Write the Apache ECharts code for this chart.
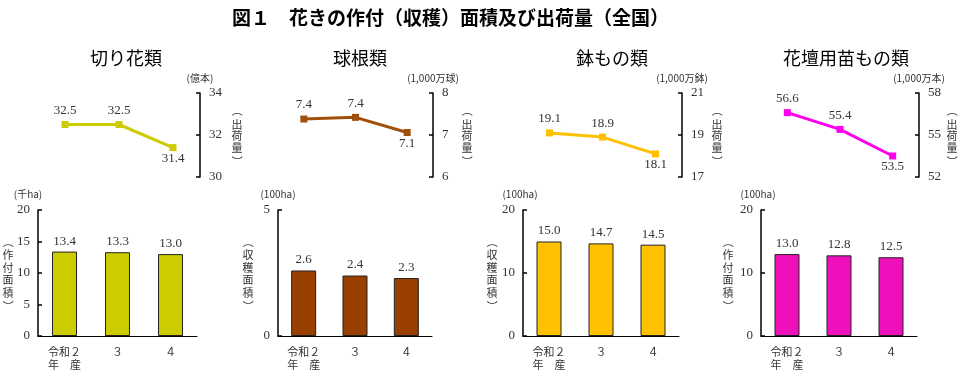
<!DOCTYPE html>
<html>
<head>
<meta charset="utf-8">
<script src="https://cdn.jsdelivr.net/npm/echarts@6/dist/echarts.min.js"></script>
<style>
html,body{margin:0;padding:0;background:#fff;}
#main{width:960px;height:372px;}
</style>
</head>
<body>
<div id="main"></div>
<script>
// ---- data ----
const mainTitle = '図１　花きの作付（収穫）面積及び出荷量（全国）';
const panelTitles = ['切り花類', '球根類', '鉢もの類', '花壇用苗もの類'];
const categories = ['令和２\n年　産', '３', '４'];

const cutFlowerArea = [13.4, 13.3, 13.0];       // 千ha
const cutFlowerShip = [32.5, 32.5, 31.4];       // 億本
const bulbArea = [2.6, 2.4, 2.3];               // 100ha
const bulbShip = [7.38, 7.42, 7.06];            // 1,000万球
const potArea = [15.0, 14.7, 14.5];             // 100ha
const potShip = [19.1, 18.9, 18.1];             // 1,000万鉢
const seedlingArea = [13.0, 12.8, 12.5];        // 100ha
const seedlingShip = [56.6, 55.4, 53.5];        // 1,000万本

const areaUnits = ['(千ha)', '(100ha)', '(100ha)', '(100ha)'];
const shipUnits = ['(億本)', '(1,000万球)', '(1,000万鉢)', '(1,000万本)'];
const areaNames = ['作付面積', '収穫面積', '収穫面積', '作付面積'];
const shipName = '出荷量';

const barTicks1 = [0, 5, 10, 15, 20];
const barTicks2 = [0, 5];
const barTicks3 = [0, 10, 20];
const barTicks4 = [0, 10, 20];
const lineTicks1 = [30, 32, 34];
const lineTicks2 = [6, 7, 8];
const lineTicks3 = [17, 19, 21];
const lineTicks4 = [52, 55, 58];

// ---- layout / style ----
const areaData = [cutFlowerArea, bulbArea, potArea, seedlingArea];
const shipData = [cutFlowerShip, bulbShip, potShip, seedlingShip];
const barTicks = [barTicks1, barTicks2, barTicks3, barTicks4];
const lineTicks = [lineTicks1, lineTicks2, lineTicks3, lineTicks4];
const barColors = ['#CCCC00', '#993F00', '#FFC000', '#EE11BB'];
const lineColors = ['#CCCC00', '#A0500A', '#FFC000', '#FF00EE'];
const lineGrids = [[38, 162], [278, 155], [523, 159], [761, 158]];
const barGrids = [[38, 159], [278, 154], [523, 156], [761, 156]];
const titleCenters = [121, 355, 607, 841];
const shipNameX = [237, 467, 717, 952];
const areaNameX = [8, 248, 492, 728];
const unitPad = [[0, 20, 0, 0], [0, 0, 0, 0], [0, 6, 0, 0], [0, 6, 0, 0]];

const numFont = '"Liberation Serif", "DejaVu Serif", serif';
const jpFont = '"Noto Sans CJK JP", sans-serif';

function verticalLabel(x, y, chars, fontSize, lineH, parenGap) {
  const half = chars.length * lineH / 2;
  const base = { fontFamily: jpFont, fontSize: fontSize, fill: '#333', textAlign: 'center', textVerticalAlign: 'middle' };
  return {
    type: 'group', x: x, y: y,
    children: [
      { type: 'text', x: 0, y: -half - parenGap, rotation: -Math.PI / 2, style: Object.assign({ text: '（' }, base) },
      { type: 'text', x: 0, y: 0, style: Object.assign({ text: chars.split('').join('\n'), lineHeight: lineH }, base) },
      { type: 'text', x: 0, y: half + parenGap, rotation: -Math.PI / 2, style: Object.assign({ text: '）' }, base) }
    ]
  };
}

const grid = [], xAxis = [], yAxis = [], series = [], graphic = [];
const title = [{
  text: mainTitle, left: 227, top: 3,
  textStyle: { fontFamily: jpFont, fontSize: 19, fontWeight: 'bold', color: '#000' }
}];

for (let p = 0; p < 4; p++) {
  title.push({
    text: panelTitles[p], left: titleCenters[p], top: 44, textAlign: 'center',
    textStyle: { fontFamily: jpFont, fontSize: 18, fontWeight: 'normal', color: '#000' }
  });
  grid.push({ left: lineGrids[p][0], width: lineGrids[p][1], top: 93, height: 84 });
  grid.push({ left: barGrids[p][0], width: barGrids[p][1], top: 210, height: 126 });

  const lg = p * 2, bg = p * 2 + 1;
  xAxis.push({ type: 'category', gridIndex: lg, data: categories, show: false, boundaryGap: true });
  xAxis.push({
    type: 'category', gridIndex: bg, data: categories, boundaryGap: true,
    axisLine: { lineStyle: { color: '#000', width: 1 } },
    axisTick: { show: false },
    axisLabel: { fontFamily: jpFont, fontSize: 11, color: '#333', lineHeight: 13, margin: 9 }
  });

  const lt = lineTicks[p];
  yAxis.push({
    type: 'value', gridIndex: lg, position: 'right',
    min: lt[0], max: lt[lt.length - 1], interval: 1,
    name: shipUnits[p], nameLocation: 'end', nameGap: 10,
    nameTextStyle: { fontFamily: jpFont, fontSize: 10, color: '#333', align: 'center' },
    axisLine: { show: true, lineStyle: { color: '#000', width: 1.5 } },
    axisTick: { show: true, inside: true, length: 4, customValues: lt, lineStyle: { color: '#000', width: 1.5 } },
    axisLabel: { customValues: lt, fontFamily: numFont, fontSize: 13, color: '#333', margin: 9 },
    splitLine: { show: false }
  });
  const bt = barTicks[p];
  yAxis.push({
    type: 'value', gridIndex: bg, position: 'left',
    min: bt[0], max: bt[bt.length - 1], interval: bt[1] - bt[0],
    name: areaUnits[p], nameLocation: 'end', nameGap: 11,
    nameTextStyle: { fontFamily: jpFont, fontSize: 10, color: '#333', align: 'center', padding: unitPad[p] },
    axisLine: { show: true, lineStyle: { color: '#000', width: 1.5 } },
    axisTick: { show: true, inside: true, length: 4, lineStyle: { color: '#000', width: 1.5 } },
    axisLabel: { fontFamily: numFont, fontSize: 13, color: '#333', margin: 8 },
    splitLine: { show: false }
  });

  const sd = shipData[p];
  series.push({
    type: 'line', xAxisIndex: lg, yAxisIndex: lg,
    data: sd.map((v, i) => i === sd.length - 1 ? { value: v, label: { position: 'bottom', distance: 1 } } : v),
    color: lineColors[p],
    lineStyle: { width: 3, color: lineColors[p] },
    symbol: 'rect', symbolSize: 7,
    itemStyle: { color: lineColors[p] },
    label: {
      show: true, position: 'top', distance: 4,
      formatter: (o) => o.value.toFixed(1),
      fontFamily: numFont, fontSize: 13, color: '#333'
    }
  });
  series.push({
    type: 'bar', xAxisIndex: bg, yAxisIndex: bg,
    data: areaData[p], barWidth: 25,
    itemStyle: { color: barColors[p], borderColor: '#222', borderWidth: 1 },
    label: {
      show: true, position: 'top', distance: 4,
      formatter: (o) => o.value.toFixed(1),
      fontFamily: numFont, fontSize: 13, color: '#333'
    }
  });

  graphic.push(verticalLabel(shipNameX[p], 136, shipName, 11, 11.5, 8));
  graphic.push(verticalLabel(areaNameX[p], 274, areaNames[p], 11, 12.5, 7));
}

const chart = echarts.init(document.getElementById('main'), null, { renderer: 'canvas' });
chart.setOption({ animation: false, backgroundColor: '#fff', title, grid, xAxis, yAxis, series, graphic });
</script>
</body>
</html>
